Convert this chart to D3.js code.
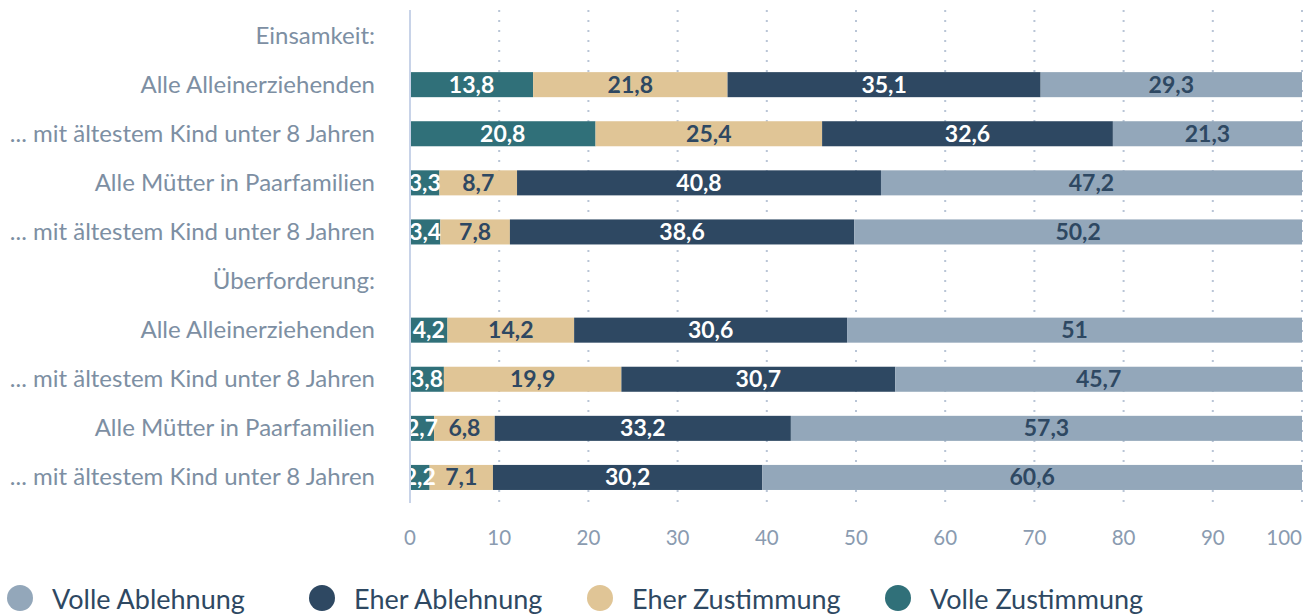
<!DOCTYPE html>
<html>
<head>
  <meta charset="UTF-8">
  <title>Einsamkeit und Überforderung</title>
  <script src="https://d3js.org/d3.v7.min.js"></script>
  <style>
    body { margin: 0; background: #fff; }
    svg { font-family: Lato, "Noto Sans", sans-serif; }
    .cat { font-size: 24px; fill: #7d8fa3; text-anchor: end; }
    .tick-label { font-size: 20.5px; fill: #8a9bb0; }
    .val { font-size: 23px; font-weight: bold; text-anchor: middle; }
    .legend-text { font-size: 27px; fill: #2e4862; }
  </style>
</head>
<body>
  <svg></svg>
  <script>
    const rows = [
      'Einsamkeit:',
      'Alle Alleinerziehenden',
      '... mit ältestem Kind unter 8 Jahren',
      'Alle Mütter in Paarfamilien',
      '... mit ältestem Kind unter 8 Jahren ',
      'Überforderung:',
      'Alle Alleinerziehenden ',
      '... mit ältestem Kind unter 8 Jahren  ',
      'Alle Mütter in Paarfamilien ',
      '... mit ältestem Kind unter 8 Jahren   '
    ];
    const series = ['Volle Zustimmung', 'Eher Zustimmung', 'Eher Ablehnung', 'Volle Ablehnung'];
    const volleZustimmung = [null, 13.8, 20.8, 3.3, 3.4, null, 4.2, 3.8, 2.7, 2.2];
    const eherZustimmung  = [null, 21.8, 25.4, 8.7, 7.8, null, 14.2, 19.9, 6.8, 7.1];
    const eherAblehnung   = [null, 35.1, 32.6, 40.8, 38.6, null, 30.6, 30.7, 33.2, 30.2];
    const volleAblehnung  = [null, 29.3, 21.3, 47.2, 50.2, null, 51, 45.7, 57.3, 60.6];
    const xTicks = [0, 10, 20, 30, 40, 50, 60, 70, 80, 90, 100];
    const legendOrder = ['Volle Ablehnung', 'Eher Ablehnung', 'Eher Zustimmung', 'Volle Zustimmung'];

    const color = d3.scaleOrdinal()
      .domain(series)
      .range(['#307079', '#e0c596', '#2e4862', '#93a7ba']);
    const labelColor = d3.scaleOrdinal()
      .domain(series)
      .range(['#ffffff', '#2e4862', '#ffffff', '#2e4862']);

    const width = 1314, height = 616;
    const svg = d3.select('svg').attr('width', width).attr('height', height);

    const x = d3.scaleLinear().domain([0, 100]).range([410, 1302]);
    const y = d3.scaleBand().domain(rows).range([11, 502]).paddingInner(0.49).paddingOuter(0.245);

    const table = rows.map((r, i) => ({
      row: r,
      'Volle Zustimmung': volleZustimmung[i],
      'Eher Zustimmung': eherZustimmung[i],
      'Eher Ablehnung': eherAblehnung[i],
      'Volle Ablehnung': volleAblehnung[i]
    })).filter(d => d['Volle Zustimmung'] !== null);

    const stacked = d3.stack().keys(series)(table);
    stacked.forEach(s => s.forEach(d => { d.key = s.key; }));

    // dotted gridlines
    svg.append('g')
      .selectAll('line')
      .data(xTicks.slice(1))
      .join('line')
      .attr('x1', d => x(d)).attr('x2', d => x(d))
      .attr('y1', 10).attr('y2', 503)
      .attr('stroke', '#b9c5d6')
      .attr('stroke-width', 2)
      .attr('stroke-dasharray', '2,8');

    // bars
    svg.append('g').selectAll('g')
      .data(stacked)
      .join('g')
      .attr('fill', d => color(d.key))
      .selectAll('rect')
      .data(d => d)
      .join('rect')
      .attr('x', d => x(d[0]))
      .attr('y', d => y(d.data.row))
      .attr('width', d => Math.max(0, Math.min(x(d[1]), x(100)) - x(d[0])))
      .attr('height', y.bandwidth());

    // value labels
    svg.append('g').selectAll('g')
      .data(stacked)
      .join('g')
      .attr('fill', d => labelColor(d.key))
      .selectAll('text')
      .data(d => d)
      .join('text')
      .attr('class', 'val')
      .attr('x', d => (x(d[0]) + x(Math.min(d[1], 100))) / 2)
      .attr('y', d => y(d.data.row) + y.bandwidth() / 2 + 8)
      .text(d => String(d.data[d.key]).replace('.', ','));

    // vertical axis line
    svg.append('line')
      .attr('x1', x(0)).attr('x2', x(0))
      .attr('y1', 10).attr('y2', 503)
      .attr('stroke', '#c8d3e8')
      .attr('stroke-width', 2);

    // category labels
    svg.append('g').selectAll('text')
      .data(rows)
      .join('text')
      .attr('class', 'cat')
      .attr('x', 375)
      .attr('y', d => y(d) + y.bandwidth() / 2 + 8)
      .text(d => d.trim());

    // x tick labels
    svg.append('g').selectAll('text')
      .data(xTicks)
      .join('text')
      .attr('class', 'tick-label')
      .attr('x', d => x(d))
      .attr('y', 545)
      .attr('text-anchor', d => d === 100 ? 'end' : 'middle')
      .text(d => d);

    // legend
    const legendX = [20, 322, 600, 898];
    const legend = svg.append('g').selectAll('g')
      .data(legendOrder)
      .join('g')
      .attr('transform', (d, i) => `translate(${legendX[i]},598)`);
    legend.append('circle')
      .attr('r', 13)
      .attr('fill', d => color(d));
    legend.append('text')
      .attr('class', 'legend-text')
      .attr('x', 32)
      .attr('y', 11)
      .text(d => d);
  </script>
</body>
</html>
